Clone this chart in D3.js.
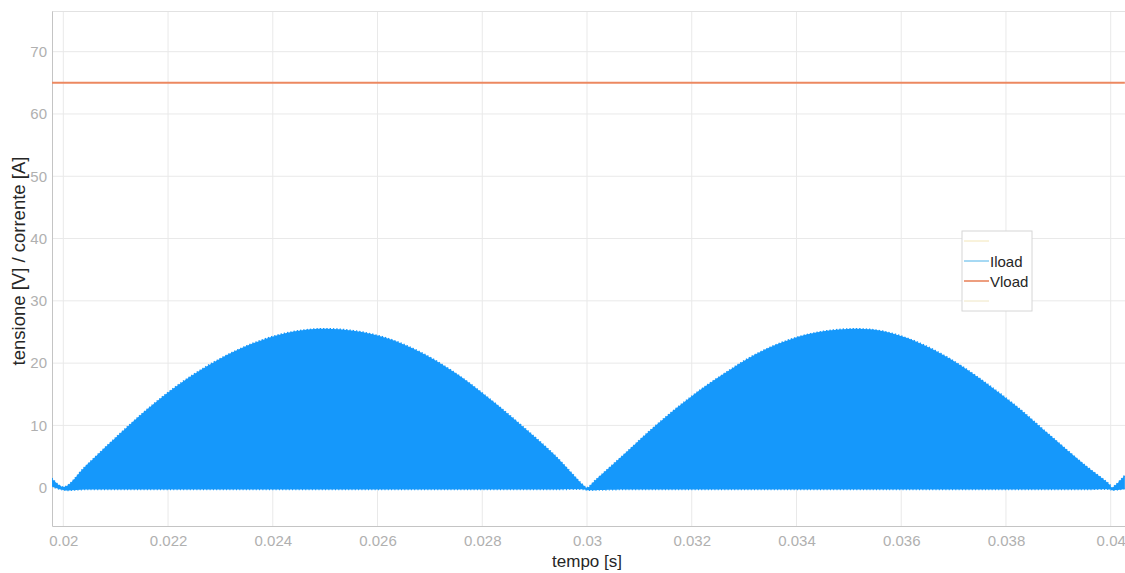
<!DOCTYPE html>
<html>
<head>
<meta charset="utf-8">
<script src="https://cdn.jsdelivr.net/npm/d3@7"></script>
<style>
  html, body { margin: 0; padding: 0; background: #fff; }
  svg { display: block; font-family: "Liberation Sans", Arial, sans-serif; }
</style>
</head>
<body>
<div id="chart"></div>
<script>
// ---- data ----
const time = [0.01978, 0.02001, 0.02042, 0.02106, 0.02169, 0.02233, 0.02297, 0.02360, 0.02424, 0.02488,
              0.02554, 0.02618, 0.02681, 0.02745, 0.02809, 0.02872, 0.02936, 0.02993, 0.03000, 0.03016,
              0.03069, 0.03133, 0.03197, 0.03260, 0.03324, 0.03388, 0.03451, 0.03515, 0.03566, 0.03630,
              0.03693, 0.03757, 0.03821, 0.03884, 0.03948, 0.03999, 0.04002, 0.04027];
const iloadUpper = [1.5, 0.1, 3.4, 8.5, 13.2, 17.3, 20.6, 23.1, 24.8, 25.5,
                    25.2, 24.0, 21.8, 18.6, 14.6, 10.2, 5.4, 0.4, 0.0, 1.2,
                    5.2, 10.1, 14.5, 18.2, 21.5, 23.8, 25.1, 25.5, 25.1, 23.4,
                    20.7, 17.1, 13.0, 8.4, 3.8, 0.4, 0.0, 2.0];
const iloadLower = [0.2, -0.4, -0.3, -0.3, -0.3, -0.3, -0.3, -0.3, -0.3, -0.3,
                    -0.3, -0.3, -0.3, -0.3, -0.3, -0.3, -0.3, -0.3, -0.4, -0.4,
                    -0.3, -0.3, -0.3, -0.3, -0.3, -0.3, -0.3, -0.3, -0.3, -0.3,
                    -0.3, -0.3, -0.3, -0.3, -0.3, -0.3, -0.4, -0.2];
const vloadTime = [0.01978, 0.04027];
const vloadValues = [65, 65];
const xTicks = [0.020, 0.022, 0.024, 0.026, 0.028, 0.030, 0.032, 0.034, 0.036, 0.038, 0.040];
const xTickLabels = ["0.02", "0.022", "0.024", "0.026", "0.028", "0.03", "0.032", "0.034", "0.036", "0.038", "0.04"];
const yTicks = [0, 10, 20, 30, 40, 50, 60, 70];
const yTickLabels = ["0", "10", "20", "30", "40", "50", "60", "70"];
const legendLabels = ["", "Iload", "Vload", ""];

// ---- layout ----
const W = 1125, H = 573;
const M = { left: 52, top: 11, right: 0, bottom: 47 };
const iw = W - M.left - M.right, ih = H - M.top - M.bottom;

const svg = d3.select("#chart").append("svg").attr("width", W).attr("height", H);
const g = svg.append("g").attr("transform", `translate(${M.left},${M.top})`);

const x = d3.scaleLinear().domain([0.019784, 0.019784 + iw / 52370]).range([0, iw]);
const y = d3.scaleLinear().domain([-6.15, 76.53]).range([ih, 0]);

svg.append("defs").append("clipPath").attr("id", "clip")
  .append("rect").attr("width", iw).attr("height", ih);

// grid
g.append("g").selectAll("line").data(xTicks).join("line")
  .attr("x1", d => x(d)).attr("x2", d => x(d)).attr("y1", 0).attr("y2", ih)
  .attr("stroke", "#e9e9e9").attr("stroke-width", 1);
g.append("g").selectAll("line").data(yTicks).join("line")
  .attr("y1", d => y(d)).attr("y2", d => y(d)).attr("x1", 0).attr("x2", iw)
  .attr("stroke", "#e9e9e9").attr("stroke-width", 1);

// top border
g.append("line").attr("x1", 0).attr("x2", iw).attr("y1", 0.5).attr("y2", 0.5)
  .attr("stroke", "#e2e2e2");

// axes
const xAxis = d3.axisBottom(x).tickValues(xTicks).tickSize(0)
  .tickFormat((d, i) => xTickLabels[i]).tickPadding(9);
const xa = g.append("g").attr("transform", `translate(0,${ih})`).call(xAxis);
xa.select(".domain").attr("stroke", "#c4c4c4");
xa.selectAll("text").attr("fill", "#b0b0b0").attr("font-size", 15)
  .attr("font-family", "Liberation Sans, Arial, sans-serif");

const yAxis = d3.axisLeft(y).tickValues(yTicks).tickSize(0)
  .tickFormat((d, i) => yTickLabels[i]).tickPadding(5);
const ya = g.append("g").call(yAxis);
ya.select(".domain").attr("stroke", "#c4c4c4");
ya.selectAll("text").attr("fill", "#b0b0b0").attr("font-size", 15)
  .attr("font-family", "Liberation Sans, Arial, sans-serif");

// data
const plot = g.append("g").attr("clip-path", "url(#clip)");
const rows = time.map((t, i) => ({ t, hi: iloadUpper[i], lo: iloadLower[i] }));
const curve = d3.curveCatmullRom.alpha(0.5);

const area = d3.area().x(d => x(d.t)).y0(d => y(d.lo)).y1(d => y(d.hi)).curve(curve);
plot.append("path").datum(rows).attr("d", area).attr("fill", "#1598fb");

const upperLine = d3.line().x(d => x(d.t)).y(d => y(d.hi)).curve(curve);
plot.append("path").datum(rows).attr("d", upperLine).attr("fill", "none")
  .attr("stroke", "#1598fb").attr("stroke-width", 1.6).attr("stroke-dasharray", "1.4,1.9");
const lowerLine = d3.line().x(d => x(d.t)).y(d => y(d.lo)).curve(curve);
plot.append("path").datum(rows).attr("d", lowerLine).attr("fill", "none")
  .attr("stroke", "#1598fb").attr("stroke-width", 1.4).attr("stroke-dasharray", "1,2.3");

const vRows = vloadTime.map((t, i) => ({ t, v: vloadValues[i] }));
plot.append("path").datum(vRows)
  .attr("d", d3.line().x(d => x(d.t)).y(d => y(d.v)))
  .attr("fill", "none").attr("stroke", "#ec8860").attr("stroke-width", 2);

// axis titles
svg.append("text").attr("x", M.left + x(0.030)).attr("y", 567)
  .attr("text-anchor", "middle").attr("font-size", 17).attr("fill", "#262626")
  .text("tempo [s]");
svg.append("text")
  .attr("transform", `translate(25,261) rotate(-90)`)
  .attr("text-anchor", "middle").attr("font-size", 18.5).attr("fill", "#262626")
  .text("tensione [V] / corrente [A]");

// legend
const lg = svg.append("g").attr("transform", "translate(962,231)");
lg.append("rect").attr("width", 70).attr("height", 80)
  .attr("fill", "#fff").attr("stroke", "#d6d6d6").attr("stroke-width", 1);
const legColors = ["#f3e6b8", "#4fb3e8", "#e9865f", "#efe6c4"];
const legWidths = [1, 1, 1.6, 1];
legendLabels.forEach((lab, i) => {
  const yy = 10 + i * 20;
  lg.append("line").attr("x1", 2).attr("x2", 27).attr("y1", yy).attr("y2", yy)
    .attr("stroke", legColors[i]).attr("stroke-width", legWidths[i]);
  if (lab) lg.append("text").attr("x", 28).attr("y", yy + 5.5)
    .attr("font-size", 15).attr("fill", "#262626").text(lab);
});
</script>
</body>
</html>
